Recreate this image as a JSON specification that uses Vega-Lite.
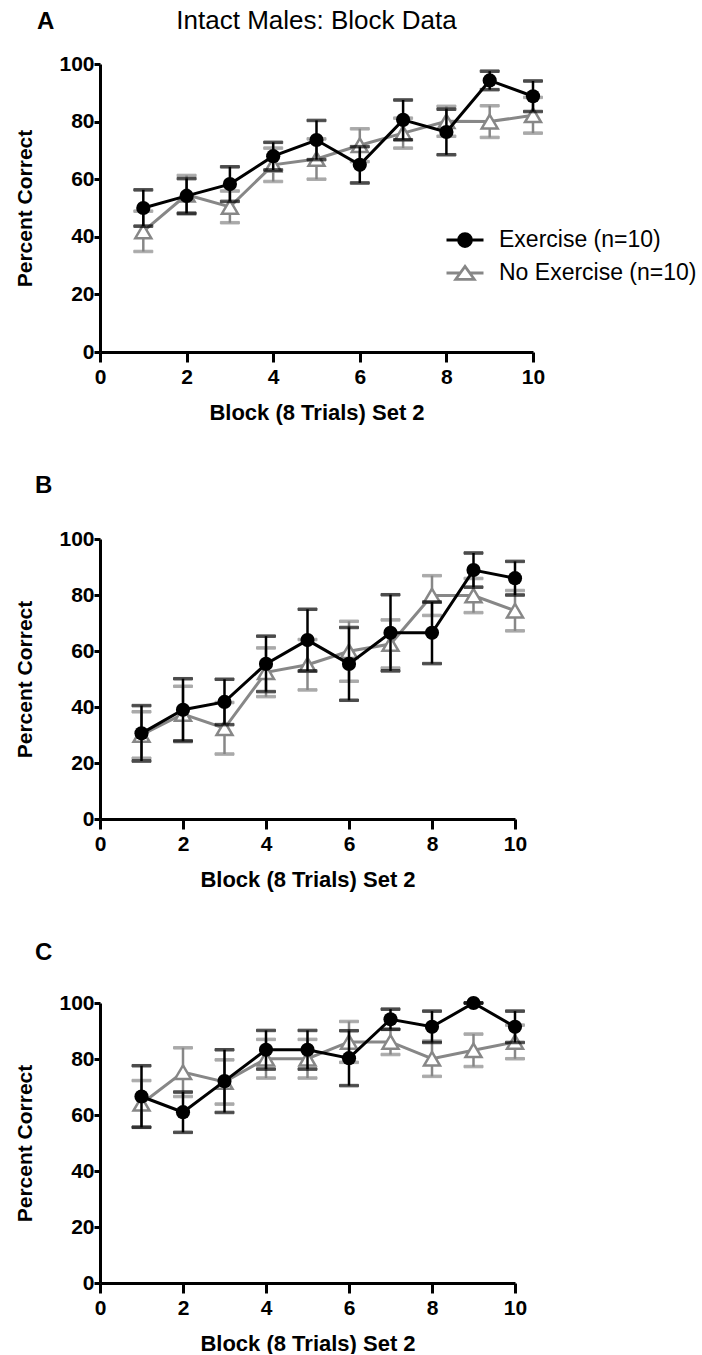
{
  "$schema": "https://vega.github.io/schema/vega-lite/v6.json",
  "background": "white",
  "padding": {"left": 14, "top": 8, "right": 5, "bottom": 0},
  "title": {"text": "A", "anchor": "start", "fontSize": 24, "fontWeight": "bold", "dx": 22, "offset": -26},
  "config": {
    "font": "Liberation Sans",
    "view": {"stroke": null},
    "axis": {
      "grid": false,
      "domainColor": "black",
      "domainWidth": 3,
      "tickColor": "black",
      "tickWidth": 3,
      "labelFont": "Liberation Sans",
      "labelFontWeight": "bold",
      "labelFontSize": 21,
      "labelColor": "black",
      "titleFont": "Liberation Sans",
      "titleFontWeight": "bold",
      "titleFontSize": 21,
      "titleColor": "black"
    },
    "axisX": {"tickSize": 10, "labelPadding": 4, "titlePadding": 15, "labelFlush": false, "titleFontSize": 22},
    "axisY": {"tickSize": 6, "labelPadding": 0, "titlePadding": 23},
    "title": {"font": "Liberation Sans", "color": "black", "fontSize": 24},
    "legend": {
      "orient": "none",
      "title": null,
      "labelFont": "Liberation Sans",
      "labelFontSize": 23,
      "labelColor": "black",
      "labelLimit": 400,
      "symbolSize": 1369,
      "symbolStrokeWidth": 2.8,
      "labelOffset": 14,
      "rowPadding": -2
    }
  },
  "datasets": {
    "panelA": [
      {"block": 1, "group": "Exercise (n=10)", "mean": 50.0, "sem": 6.3},
      {"block": 2, "group": "Exercise (n=10)", "mean": 54.2, "sem": 6.0},
      {"block": 3, "group": "Exercise (n=10)", "mean": 58.3, "sem": 6.0},
      {"block": 4, "group": "Exercise (n=10)", "mean": 68.0, "sem": 4.8},
      {"block": 5, "group": "Exercise (n=10)", "mean": 73.6, "sem": 6.8},
      {"block": 6, "group": "Exercise (n=10)", "mean": 65.0, "sem": 6.3},
      {"block": 7, "group": "Exercise (n=10)", "mean": 80.6, "sem": 6.9},
      {"block": 8, "group": "Exercise (n=10)", "mean": 76.4, "sem": 7.9},
      {"block": 9, "group": "Exercise (n=10)", "mean": 94.3, "sem": 3.2},
      {"block": 10, "group": "Exercise (n=10)", "mean": 88.8, "sem": 5.3},
      {"block": 1, "group": "No Exercise (n=10)", "mean": 41.9, "sem": 7.0},
      {"block": 2, "group": "No Exercise (n=10)", "mean": 54.6, "sem": 6.7},
      {"block": 3, "group": "No Exercise (n=10)", "mean": 50.4, "sem": 5.5},
      {"block": 4, "group": "No Exercise (n=10)", "mean": 65.0, "sem": 5.8},
      {"block": 5, "group": "No Exercise (n=10)", "mean": 67.0, "sem": 7.0},
      {"block": 6, "group": "No Exercise (n=10)", "mean": 71.8, "sem": 5.7},
      {"block": 7, "group": "No Exercise (n=10)", "mean": 76.0, "sem": 5.2},
      {"block": 8, "group": "No Exercise (n=10)", "mean": 80.1, "sem": 5.2},
      {"block": 9, "group": "No Exercise (n=10)", "mean": 80.0, "sem": 5.5},
      {"block": 10, "group": "No Exercise (n=10)", "mean": 82.2, "sem": 6.2}
    ],
    "panelB": [
      {"block": 1, "group": "Exercise (n=10)", "mean": 30.6, "sem": 9.9},
      {"block": 2, "group": "Exercise (n=10)", "mean": 39.0, "sem": 11.1},
      {"block": 3, "group": "Exercise (n=10)", "mean": 41.8, "sem": 8.1},
      {"block": 4, "group": "Exercise (n=10)", "mean": 55.4, "sem": 9.9},
      {"block": 5, "group": "Exercise (n=10)", "mean": 63.9, "sem": 11.0},
      {"block": 6, "group": "Exercise (n=10)", "mean": 55.4, "sem": 13.0},
      {"block": 7, "group": "Exercise (n=10)", "mean": 66.5, "sem": 13.6},
      {"block": 8, "group": "Exercise (n=10)", "mean": 66.5, "sem": 11.0},
      {"block": 9, "group": "Exercise (n=10)", "mean": 88.9, "sem": 6.1},
      {"block": 10, "group": "Exercise (n=10)", "mean": 86.0, "sem": 6.0},
      {"block": 1, "group": "No Exercise (n=10)", "mean": 30.0, "sem": 8.3},
      {"block": 2, "group": "No Exercise (n=10)", "mean": 37.5, "sem": 9.9},
      {"block": 3, "group": "No Exercise (n=10)", "mean": 32.4, "sem": 9.2},
      {"block": 4, "group": "No Exercise (n=10)", "mean": 52.4, "sem": 8.7},
      {"block": 5, "group": "No Exercise (n=10)", "mean": 55.1, "sem": 9.0},
      {"block": 6, "group": "No Exercise (n=10)", "mean": 59.9, "sem": 10.7},
      {"block": 7, "group": "No Exercise (n=10)", "mean": 62.5, "sem": 8.6},
      {"block": 8, "group": "No Exercise (n=10)", "mean": 79.8, "sem": 7.1},
      {"block": 9, "group": "No Exercise (n=10)", "mean": 79.8, "sem": 6.1},
      {"block": 10, "group": "No Exercise (n=10)", "mean": 74.4, "sem": 7.2}
    ],
    "panelC": [
      {"block": 1, "group": "Exercise (n=10)", "mean": 66.6, "sem": 11.0},
      {"block": 2, "group": "Exercise (n=10)", "mean": 61.0, "sem": 7.2},
      {"block": 3, "group": "Exercise (n=10)", "mean": 72.1, "sem": 11.2},
      {"block": 4, "group": "Exercise (n=10)", "mean": 83.3, "sem": 6.9},
      {"block": 5, "group": "Exercise (n=10)", "mean": 83.3, "sem": 6.9},
      {"block": 6, "group": "Exercise (n=10)", "mean": 80.3, "sem": 9.8},
      {"block": 7, "group": "Exercise (n=10)", "mean": 94.2, "sem": 3.6},
      {"block": 8, "group": "Exercise (n=10)", "mean": 91.5, "sem": 5.6},
      {"block": 9, "group": "Exercise (n=10)", "mean": 100.0, "sem": 0},
      {"block": 10, "group": "Exercise (n=10)", "mean": 91.5, "sem": 5.6},
      {"block": 1, "group": "No Exercise (n=10)", "mean": 64.0, "sem": 8.3},
      {"block": 2, "group": "No Exercise (n=10)", "mean": 75.3, "sem": 8.7},
      {"block": 3, "group": "No Exercise (n=10)", "mean": 71.8, "sem": 7.9},
      {"block": 4, "group": "No Exercise (n=10)", "mean": 80.1, "sem": 6.9},
      {"block": 5, "group": "No Exercise (n=10)", "mean": 80.1, "sem": 6.9},
      {"block": 6, "group": "No Exercise (n=10)", "mean": 86.1, "sem": 7.3},
      {"block": 7, "group": "No Exercise (n=10)", "mean": 86.1, "sem": 4.5},
      {"block": 8, "group": "No Exercise (n=10)", "mean": 80.1, "sem": 6.3},
      {"block": 9, "group": "No Exercise (n=10)", "mean": 83.1, "sem": 5.8},
      {"block": 10, "group": "No Exercise (n=10)", "mean": 86.1, "sem": 6.0}
    ]
  },
  "spacing": 51,
  "vconcat": [
    {
      "width": 433,
      "height": 288,
      "data": {"name": "panelA"},
      "title": {"text": "Intact Males: Block Data", "anchor": "middle", "frame": "group", "fontWeight": "normal", "fontSize": 26, "offset": 19},
      "encoding": {
        "x": {"field": "block", "type": "quantitative", "scale": {"domain": [0, 10]}, "axis": {"values": [0, 2, 4, 6, 8, 10], "title": "Block (8 Trials) Set 2"}},
        "y": {"field": "mean", "type": "quantitative", "scale": {"domain": [0, 100]}, "axis": {"values": [0, 20, 40, 60, 80, 100], "title": "Percent Correct"}},
        "stroke": {
          "field": "group", "type": "nominal",
          "scale": {"domain": ["Exercise (n=10)", "No Exercise (n=10)"], "range": ["#000000", "#878787"]},
          "legend": {
            "legendX": 345, "legendY": 156,
            "encode": {"symbols": {"update": {
              "shape": {"signal": "datum.value === 'Exercise (n=10)' ? 'M-1,0L1,0M0.35,0A0.35,0.35,0,1,1,-0.35,0A0.35,0.35,0,1,1,0.35,0Z' : 'M-1,0L-0.26,0M0.26,0L1,0M0,-0.36L0.5,0.34L-0.5,0.34Z'"}
            }}}
          }
        }
      },
      "layer": [
        {"transform": [{"filter": "datum.group === 'No Exercise (n=10)'"}], "mark": {"type": "errorbar", "ticks": true, "size": 19, "thickness": 2.5, "color": "#878787"}, "encoding": {"yError": {"field": "sem"}}},
        {"transform": [{"filter": "datum.group === 'No Exercise (n=10)'"}], "mark": {"type": "line", "strokeWidth": 3}},
        {"transform": [{"filter": "datum.group === 'No Exercise (n=10)'"}], "mark": {"type": "point", "shape": "M0,-0.85L1,0.85L-1,0.85Z", "size": 256, "strokeWidth": 2.5, "opacity": 1},
         "encoding": {"fill": {"field": "group", "type": "nominal", "scale": {"domain": ["Exercise (n=10)", "No Exercise (n=10)"], "range": ["#000000", "#ffffff"]}}}},
        {"transform": [{"filter": "datum.group === 'Exercise (n=10)'"}], "mark": {"type": "errorbar", "ticks": true, "size": 19, "thickness": 2.5, "color": "#000000"}, "encoding": {"yError": {"field": "sem"}}},
        {"transform": [{"filter": "datum.group === 'Exercise (n=10)'"}], "mark": {"type": "line", "strokeWidth": 3}},
        {"transform": [{"filter": "datum.group === 'Exercise (n=10)'"}], "mark": {"type": "point", "shape": "circle", "size": 201, "strokeWidth": 0, "opacity": 1},
         "encoding": {"fill": {"field": "group", "type": "nominal", "scale": {"domain": ["Exercise (n=10)", "No Exercise (n=10)"], "range": ["#000000", "#ffffff"]}}}}
      ]
    },
    {
      "width": 415,
      "height": 280,
      "data": {"name": "panelB"},
      "title": {"text": "B", "anchor": "start", "frame": "bounds", "fontWeight": "bold", "dx": 20, "offset": 30},
      "encoding": {
        "x": {"field": "block", "type": "quantitative", "scale": {"domain": [0, 10]}, "axis": {"values": [0, 2, 4, 6, 8, 10], "title": "Block (8 Trials) Set 2"}},
        "y": {"field": "mean", "type": "quantitative", "scale": {"domain": [0, 100]}, "axis": {"values": [0, 20, 40, 60, 80, 100], "title": "Percent Correct"}},
        "stroke": {
          "field": "group", "type": "nominal",
          "scale": {"domain": ["Exercise (n=10)", "No Exercise (n=10)"], "range": ["#000000", "#878787"]},
          "legend": {
            "legendX": 330, "legendY": 151,
            "encode": {"symbols": {"update": {
              "shape": {"signal": "datum.value === 'Exercise (n=10)' ? 'M-1,0L1,0M0.35,0A0.35,0.35,0,1,1,-0.35,0A0.35,0.35,0,1,1,0.35,0Z' : 'M-1,0L-0.26,0M0.26,0L1,0M0,-0.36L0.5,0.34L-0.5,0.34Z'"}
            }}}
          }
        }
      },
      "layer": [
        {"transform": [{"filter": "datum.group === 'No Exercise (n=10)'"}], "mark": {"type": "errorbar", "ticks": true, "size": 19, "thickness": 2.5, "color": "#878787"}, "encoding": {"yError": {"field": "sem"}}},
        {"transform": [{"filter": "datum.group === 'No Exercise (n=10)'"}], "mark": {"type": "line", "strokeWidth": 3}},
        {"transform": [{"filter": "datum.group === 'No Exercise (n=10)'"}], "mark": {"type": "point", "shape": "M0,-0.85L1,0.85L-1,0.85Z", "size": 256, "strokeWidth": 2.5, "opacity": 1},
         "encoding": {"fill": {"field": "group", "type": "nominal", "scale": {"domain": ["Exercise (n=10)", "No Exercise (n=10)"], "range": ["#000000", "#ffffff"]}}}},
        {"transform": [{"filter": "datum.group === 'Exercise (n=10)'"}], "mark": {"type": "errorbar", "ticks": true, "size": 19, "thickness": 2.5, "color": "#000000"}, "encoding": {"yError": {"field": "sem"}}},
        {"transform": [{"filter": "datum.group === 'Exercise (n=10)'"}], "mark": {"type": "line", "strokeWidth": 3}},
        {"transform": [{"filter": "datum.group === 'Exercise (n=10)'"}], "mark": {"type": "point", "shape": "circle", "size": 201, "strokeWidth": 0, "opacity": 1},
         "encoding": {"fill": {"field": "group", "type": "nominal", "scale": {"domain": ["Exercise (n=10)", "No Exercise (n=10)"], "range": ["#000000", "#ffffff"]}}}}
      ]
    },
    {
      "width": 415,
      "height": 280,
      "data": {"name": "panelC"},
      "title": {"text": "C", "anchor": "start", "frame": "bounds", "fontWeight": "bold", "dx": 20, "offset": 27},
      "encoding": {
        "x": {"field": "block", "type": "quantitative", "scale": {"domain": [0, 10]}, "axis": {"values": [0, 2, 4, 6, 8, 10], "title": "Block (8 Trials) Set 2"}},
        "y": {"field": "mean", "type": "quantitative", "scale": {"domain": [0, 100]}, "axis": {"values": [0, 20, 40, 60, 80, 100], "title": "Percent Correct"}},
        "stroke": {
          "field": "group", "type": "nominal",
          "scale": {"domain": ["Exercise (n=10)", "No Exercise (n=10)"], "range": ["#000000", "#878787"]},
          "legend": {
            "legendX": 330, "legendY": 150,
            "encode": {"symbols": {"update": {
              "shape": {"signal": "datum.value === 'Exercise (n=10)' ? 'M-1,0L1,0M0.35,0A0.35,0.35,0,1,1,-0.35,0A0.35,0.35,0,1,1,0.35,0Z' : 'M-1,0L-0.26,0M0.26,0L1,0M0,-0.36L0.5,0.34L-0.5,0.34Z'"}
            }}}
          }
        }
      },
      "layer": [
        {"transform": [{"filter": "datum.group === 'No Exercise (n=10)'"}], "mark": {"type": "errorbar", "ticks": true, "size": 19, "thickness": 2.5, "color": "#878787"}, "encoding": {"yError": {"field": "sem"}}},
        {"transform": [{"filter": "datum.group === 'No Exercise (n=10)'"}], "mark": {"type": "line", "strokeWidth": 3}},
        {"transform": [{"filter": "datum.group === 'No Exercise (n=10)'"}], "mark": {"type": "point", "shape": "M0,-0.85L1,0.85L-1,0.85Z", "size": 256, "strokeWidth": 2.5, "opacity": 1},
         "encoding": {"fill": {"field": "group", "type": "nominal", "scale": {"domain": ["Exercise (n=10)", "No Exercise (n=10)"], "range": ["#000000", "#ffffff"]}}}},
        {"transform": [{"filter": "datum.group === 'Exercise (n=10)'"}], "mark": {"type": "errorbar", "ticks": true, "size": 19, "thickness": 2.5, "color": "#000000"}, "encoding": {"yError": {"field": "sem"}}},
        {"transform": [{"filter": "datum.group === 'Exercise (n=10)'"}], "mark": {"type": "line", "strokeWidth": 3}},
        {"transform": [{"filter": "datum.group === 'Exercise (n=10)'"}], "mark": {"type": "point", "shape": "circle", "size": 201, "strokeWidth": 0, "opacity": 1},
         "encoding": {"fill": {"field": "group", "type": "nominal", "scale": {"domain": ["Exercise (n=10)", "No Exercise (n=10)"], "range": ["#000000", "#ffffff"]}}}}
      ]
    }
  ]
}
